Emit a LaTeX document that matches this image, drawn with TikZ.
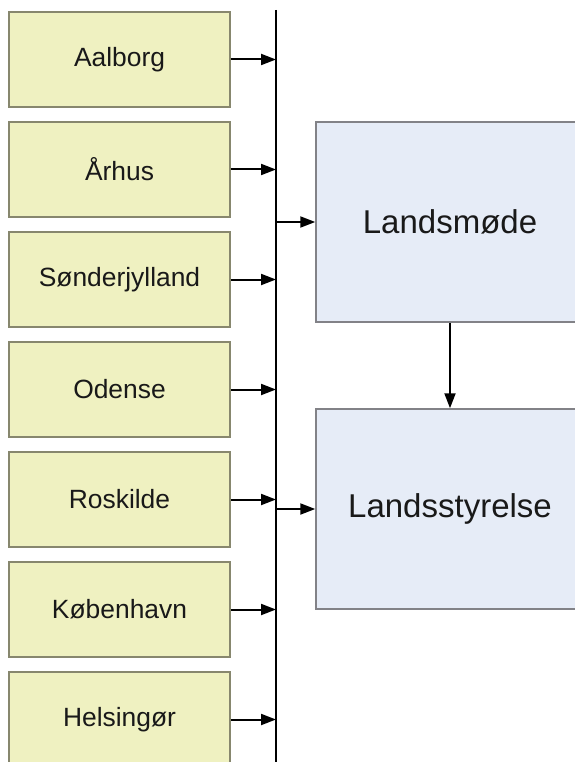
\documentclass[tikz,border=0pt]{standalone}
\usepackage{fontspec}
\setmainfont{Liberation Sans}
\usetikzlibrary{arrows.meta}
\definecolor{yfill}{RGB}{239,241,193}
\definecolor{yline}{RGB}{135,135,110}
\definecolor{bfill}{RGB}{230,236,247}
\definecolor{bline}{RGB}{130,130,135}
\definecolor{txt}{RGB}{25,25,25}
\tikzset{
  region/.style={draw=yline, fill=yfill, line width=1.5pt, minimum width=221pt, minimum height=95pt, inner sep=0pt, text=txt, font=\fontsize{26.4}{30}\selectfont},
  organ/.style={draw=bline, fill=bfill, line width=1.5pt, minimum width=268pt, minimum height=200pt, inner sep=0pt, text=txt, font=\fontsize{33}{38}\selectfont},
  feed/.style={line width=2pt, -{Triangle[length=15pt,width=11pt]}},
  bus/.style={line width=2pt}
}
\begin{document}
\begin{tikzpicture}[x=1pt,y=-1pt]
\useasboundingbox[fill=white] (0,0) rectangle (574,762);
\node[region] (r1) at (119.5,59.5) {Aalborg};
\node[region] (r2) at (119.5,169.5) {Århus};
\node[region] (r3) at (119.5,279.5) {Sønderjylland};
\node[region] (r4) at (119.5,389.5) {Odense};
\node[region] (r5) at (119.5,499.5) {Roskilde};
\node[region] (r6) at (119.5,609.5) {København};
\node[region] (r7) at (119.5,719.5) {Helsingør};
\coordinate (bt) at (276,10);
\coordinate (bb) at (276,770);
\draw[bus] (bt) -- (bb);
\foreach \i in {1,...,7} {
  \draw[feed] (r\i.east) -- (r\i.east -| bt);
}
\node[organ] (lm) at (450,222) {Landsmøde};
\node[organ] (ls) at (450,509) {Landsstyrelse};
\draw[feed] (lm.west -| bt) -- (lm.west);
\draw[feed] (ls.west -| bt) -- (ls.west);
\draw[feed] (lm.south) -- (ls.north);
\end{tikzpicture}
\end{document}
